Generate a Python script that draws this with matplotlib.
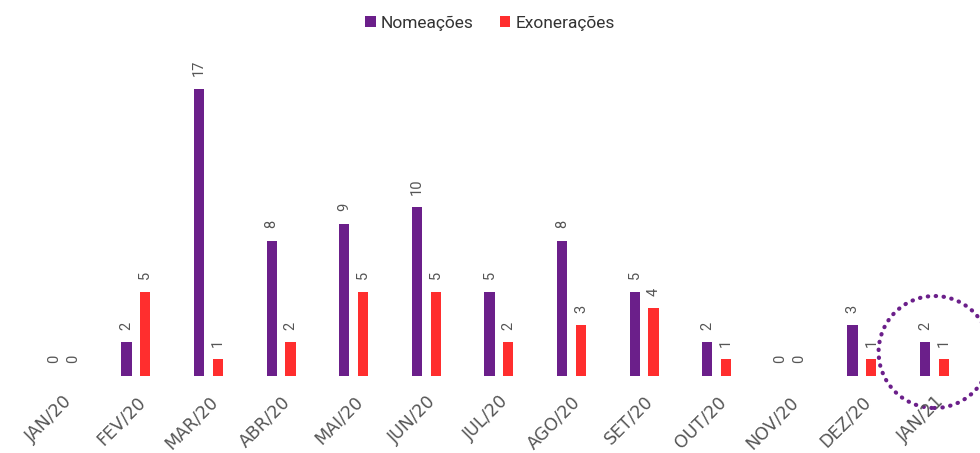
import numpy as np
import matplotlib.pyplot as plt
from matplotlib.patches import Ellipse

months = ['JAN/20', 'FEV/20', 'MAR/20', 'ABR/20', 'MAI/20', 'JUN/20', 'JUL/20',
          'AGO/20', 'SET/20', 'OUT/20', 'NOV/20', 'DEZ/20', 'JAN/21']
nomeacoes = [0, 2, 17, 8, 9, 10, 5, 8, 5, 2, 0, 3, 2]
exoneracoes = [0, 5, 1, 2, 5, 5, 2, 3, 4, 1, 0, 1, 1]

purple = '#6b1f8a'
red = '#ff2e2e'
label_color = '#555555'

plt.rcParams['font.family'] = ['Roboto', 'DejaVu Sans']

fig = plt.figure(figsize=(9.8, 4.53), dpi=100)
ax = fig.add_axes([0.0276, 0.17, 0.963, 0.742])

x = np.arange(len(months))
off = 0.13
w = 0.14
b1 = ax.bar(x - off, nomeacoes, width=w, color=purple, label='Nomeações')
b2 = ax.bar(x + off, exoneracoes, width=w, color=red, label='Exonerações')

for bars, vals in ((b1, nomeacoes), (b2, exoneracoes)):
    for rect, v in zip(bars, vals):
        ax.annotate(str(v), (rect.get_x() + rect.get_width() / 2, v),
                    xytext=(0, 9), textcoords='offset points',
                    rotation=90, ha='center', va='bottom',
                    fontsize=10.5, color=label_color)

ax.set_xlim(-0.5, len(months) - 0.5)
ax.set_ylim(0, 19.9)
ax.set_xticks(x)
ax.set_xticklabels(months, rotation=45, ha='right', va='top',
                   rotation_mode='anchor', fontsize=12.5, color='#555555',
                   family=['DejaVu Sans'])
ax.tick_params(axis='x', length=0, pad=12)
ax.set_yticks([])
for s in ax.spines.values():
    s.set_visible(False)

# highlight last month
circ = Ellipse((12, 1.42), width=1.54, height=6.63, fill=False,
               edgecolor=purple, linewidth=3, linestyle=(0, (0.1, 1.8)),
               capstyle='round', clip_on=False)
ax.add_patch(circ)

fig.legend(handles=[b1, b2], loc='upper center', bbox_to_anchor=(0.5, 1.0),
           ncol=2, frameon=False, fontsize=12.5, handlelength=0.6,
           handleheight=0.6, handletextpad=0.3, columnspacing=1.5,
           labelcolor='#333333')

fig.savefig('out.png', dpi=100)
